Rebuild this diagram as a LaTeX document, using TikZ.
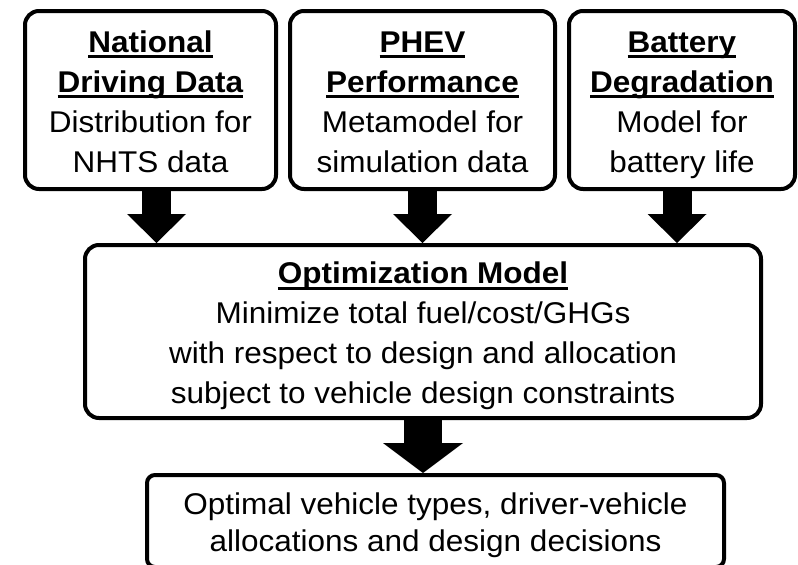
\documentclass[tikz,border=0pt]{standalone}
\usepackage{fontspec}
\setmainfont[FakeStretch=1.05]{Liberation Sans}
\usetikzlibrary{arrows.meta}

% bold heading with a fixed underline
\newcommand{\ulbf}[1]{\setbox0\hbox{\textbf{#1}}\rlap{\rule[-6pt]{\wd0}{2.7pt}}\box0}
% struts for the first and last line of a box
\newcommand{\tallstrut}{\rule{0pt}{31pt}}
\newcommand{\deepstrut}{\rule[-7pt]{0pt}{7pt}}

\begin{document}
\begin{tikzpicture}[x=1pt, y=-1pt,
    box/.style={draw, line width=4pt, rounded corners=14pt, align=center, inner sep=0pt,
        font=\fontsize{30}{40}\selectfont},
    bigarrow/.style={line width=29pt, -{Triangle[length=29pt, width=59pt, line width=0pt]}}]
    \useasboundingbox (0,0) rectangle (798,565);
    \clip (0,0) rectangle (798,565);

    % Input models (top row)
    \node[box, minimum width=251pt, minimum height=178pt] (natl) at (150.5,100)
        {\tallstrut\ulbf{National}\\\ulbf{Driving Data}\\Distribution for\\NHTS data\deepstrut};
    \node[box, minimum width=265pt, minimum height=178pt] (phev) at (422.5,100)
        {\tallstrut\ulbf{PHEV}\\\ulbf{Performance}\\Metamodel for\\simulation data\deepstrut};
    \node[box, minimum width=226pt, minimum height=178pt] (batt) at (682,100)
        {\tallstrut\ulbf{Battery}\\\ulbf{Degradation}\\Model for\\battery life\deepstrut};

    % Optimization
    \node[box, minimum width=676pt, minimum height=173pt] (opt) at (423,331.5)
        {\tallstrut\ulbf{Optimization Model}\\Minimize total fuel/cost/GHGs\\
         with respect to design and allocation\\subject to vehicle design constraints\deepstrut};

    % Results
    \node[box, rounded corners=8pt, minimum width=577pt, minimum height=92pt,
        font=\fontsize{30}{37}\selectfont] (res) at (435.5,521)
        {\tallstrut Optimal vehicle types, driver-vehicle\\allocations and design decisions\deepstrut};

    % Arrows
    \coordinate (a1) at ([xshift=6pt]natl.south);
    \coordinate (a3) at ([xshift=-5pt]batt.south);
    \draw[bigarrow] (a1) -- (a1 |- opt.north);
    \draw[bigarrow] (phev.south) -- (phev.south |- opt.north);
    \draw[bigarrow] (a3) -- (a3 |- opt.north);
    \draw[bigarrow, line width=38pt, -{Triangle[length=30pt, width=80pt, line width=0pt]}]
        (opt.south) -- (opt.south |- res.north);
\end{tikzpicture}
\end{document}
